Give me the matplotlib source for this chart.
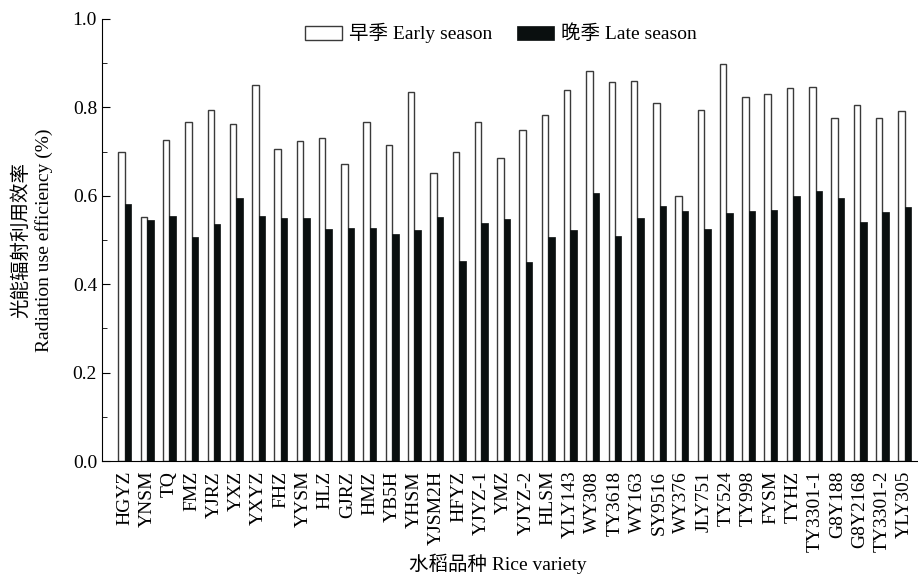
import numpy as np
import matplotlib
matplotlib.use('Agg')
import matplotlib.pyplot as plt
from matplotlib.ticker import MultipleLocator

plt.rcParams['font.family'] = ['Liberation Serif', 'Noto Sans CJK SC']

# Dados
variedades = ['HGYZ', 'YNSM', 'TQ', 'FMZ', 'YJRZ', 'YXZ', 'YXYZ', 'FHZ', 'YYSM', 'HLZ',
              'GJRZ', 'HMZ', 'YB5H', 'YHSM', 'YJSM2H', 'HFYZ', 'YJYZ-1', 'YMZ', 'YJYZ-2',
              'HLSM', 'YLY143', 'WY308', 'TY3618', 'WY163', 'SY9516', 'WY376', 'JLY751',
              'TY524', 'TY998', 'FYSM', 'TYHZ', 'TY3301-1', 'G8Y188', 'G8Y2168',
              'TY3301-2', 'YLY305']
precoce = [0.700, 0.552, 0.727, 0.767, 0.795, 0.762, 0.851, 0.706, 0.723, 0.730,
           0.673, 0.767, 0.716, 0.834, 0.651, 0.700, 0.768, 0.685, 0.748,
           0.782, 0.839, 0.882, 0.857, 0.860, 0.810, 0.600, 0.794,
           0.898, 0.823, 0.831, 0.844, 0.847, 0.776, 0.805, 0.775, 0.793]
tardio = [0.581, 0.545, 0.554, 0.506, 0.536, 0.596, 0.554, 0.550, 0.550, 0.526,
          0.528, 0.528, 0.514, 0.522, 0.552, 0.452, 0.538, 0.547, 0.451,
          0.506, 0.522, 0.607, 0.510, 0.549, 0.577, 0.565, 0.525,
          0.561, 0.565, 0.567, 0.600, 0.612, 0.595, 0.540, 0.563, 0.574]

x = np.arange(len(variedades))
w = 0.29

fig = plt.figure(figsize=(9.18, 5.75), dpi=100)
ax = fig.add_axes([0.111, 0.198, 0.889, 0.769])

ax.bar(x - w / 2, precoce, w, color='white', edgecolor='#3a3a3a', linewidth=1.0,
       label='早季 Early season')
ax.bar(x + w / 2, tardio, w, color='#0a0f0f', edgecolor='#0a0f0f', linewidth=0.5,
       label='晚季 Late season')

ax.set_xlim(-1.03, 35.6)
ax.set_ylim(0, 1.0)
ax.yaxis.set_major_locator(MultipleLocator(0.2))
ax.yaxis.set_minor_locator(MultipleLocator(0.1))
ax.yaxis.set_major_formatter(matplotlib.ticker.FormatStrFormatter('%.1f'))
ax.tick_params(axis='y', which='major', direction='in', length=6, labelsize=14)
ax.tick_params(axis='y', which='minor', direction='in', length=3.5)
ax.set_xticks(x)
ax.set_xticklabels(variedades, rotation=90, fontsize=14)
ax.tick_params(axis='x', length=0, pad=7)

ax.spines['top'].set_visible(False)
ax.spines['right'].set_visible(False)

ax.set_ylabel('光能辐射利用效率\nRadiation use efficiency (%)', fontsize=14,
              linespacing=1.35)
ax.yaxis.set_label_coords(-0.060, 0.5)
ax.set_xlabel('水稻品种 Rice variety', fontsize=14)
ax.xaxis.set_label_coords(0.485, -0.21)

ax.legend(loc='upper center', bbox_to_anchor=(0.489, 1.03), ncol=2, frameon=False,
          fontsize=14, handlelength=1.9, handleheight=0.75, columnspacing=1.3,
          handletextpad=0.35)

plt.savefig('out.png', dpi=100)
